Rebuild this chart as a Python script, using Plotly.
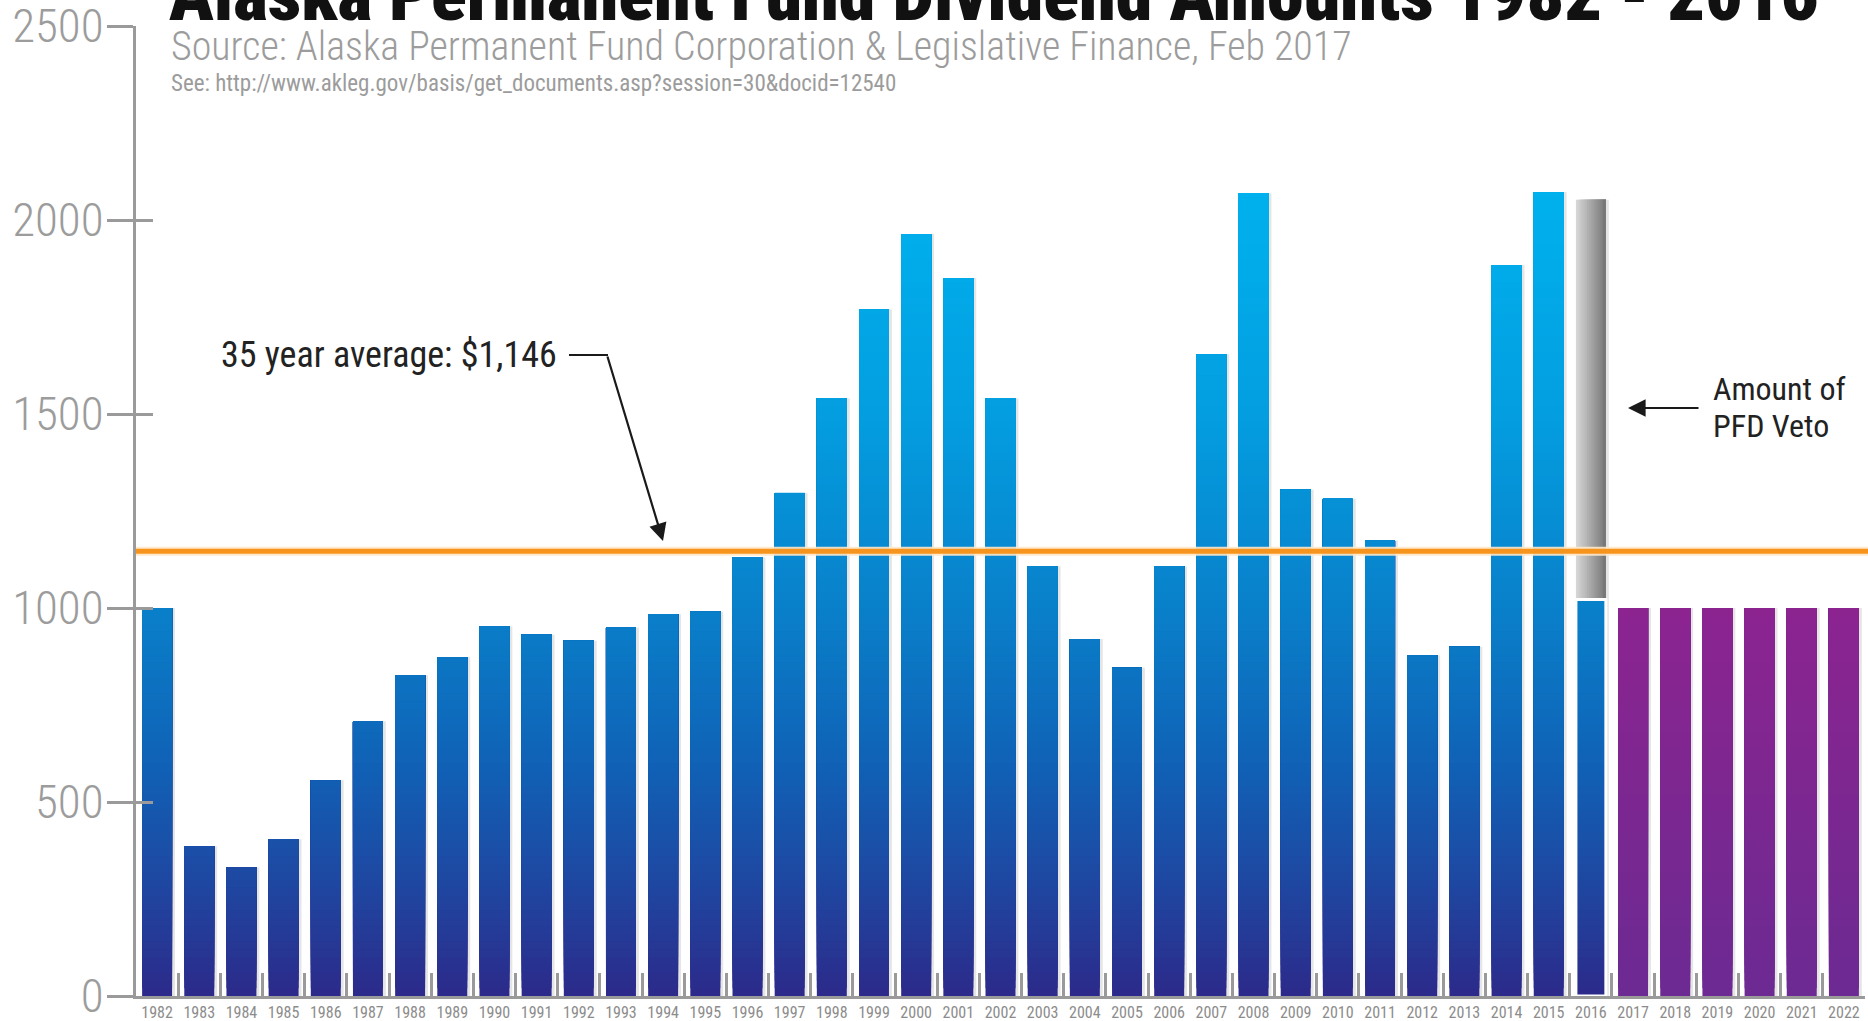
import plotly.graph_objects as go

# ---- data -------------------------------------------------------------
years = [str(y) for y in range(1982, 2023)]
paid_years = years[:35]
dividend = [1000.00, 386.15, 331.29, 404.00, 556.26, 708.19, 826.93, 873.16,
            952.63, 931.34, 915.84, 949.46, 983.90, 990.30, 1130.68, 1296.54,
            1540.88, 1769.84, 1963.86, 1850.28, 1540.76, 1107.56, 919.84,
            845.76, 1106.96, 1654.00, 2069.00, 1305.00, 1281.00, 1174.00,
            878.00, 900.00, 1884.00, 2072.00, 1022.00]
projected_years = years[35:]
projected = [1000, 1000, 1000, 1000, 1000, 1000]
veto_year = "2016"
veto_full_amount = 2052
average_35yr = 1146
y_ticks = [0, 500, 1000, 1500, 2000, 2500]

# ---- style -----------------------------------------------------------------
W, H = 1868, 1021
PLOT_L, PLOT_R, PLOT_T, PLOT_B = 136, 1865, 26, 996
FONT = "Noto Sans ExtraCondensed, Noto Sans Condensed, Roboto Condensed, Roboto, sans-serif"
GREY = "#9a9a9a"
BAR_W = 0.71

blue_stops = [(0, (44, 42, 138)), (300, (30, 72, 162)), (600, (16, 98, 182)),
              (1000, (9, 128, 202)), (1500, (3, 158, 224)), (2100, (0, 178, 238))]
purple_stops = [(0, (108, 42, 146)), (1000, (140, 36, 144))]


def lerp_color(stops, v):
    if v <= stops[0][0]:
        c = stops[0][1]
    elif v >= stops[-1][0]:
        c = stops[-1][1]
    else:
        for (v0, c0), (v1, c1) in zip(stops, stops[1:]):
            if v0 <= v <= v1:
                t = (v - v0) / (v1 - v0)
                c = tuple(round(a + (b - a) * t) for a, b in zip(c0, c1))
                break
    return "rgb(%d,%d,%d)" % c


def px_x(px):
    return (px - PLOT_L) / (PLOT_R - PLOT_L)


def px_y(py):
    return (PLOT_B - py) / (PLOT_B - PLOT_T)


fig = go.Figure()

all_x = paid_years + projected_years
all_v = dividend + projected
kind = ["blue"] * len(dividend) + ["purple"] * len(projected)
veto_paid = dividend[paid_years.index(veto_year)]

# soft drop shadow to the right of every bar
shadow_v = [veto_full_amount if x == veto_year else v for x, v in zip(all_x, all_v)]
fig.add_trace(go.Bar(x=all_x, y=shadow_v, offset=-BAR_W / 2 + 0.07, width=BAR_W,
                     marker=dict(color="rgba(0,0,0,0.10)", line=dict(width=0)),
                     hoverinfo="skip", showlegend=False))

# Vertical gradient: bars stacked as overlaid bands, each band running from its
# base level up to the bar top and coloured for its level.
STEP = 20
top = max(all_v)
k = 0
while k * STEP < top:
    base = k * STEP
    xs, ys, cs = [], [], []
    for x, v, kd in zip(all_x, all_v, kind):
        if v > base:
            xs.append(x)
            ys.append(v - base)
            stops = blue_stops if kd == "blue" else purple_stops
            cs.append(lerp_color(stops, base + STEP / 2))
    fig.add_trace(go.Bar(x=xs, y=ys, base=base, width=BAR_W,
                         marker=dict(color=cs, line=dict(width=0)),
                         hoverinfo="skip", showlegend=False))
    k += 1

# Vetoed share of the 2016 dividend: grey bar with a horizontal sheen
N_SHEEN = 16
for i in range(N_SHEEN):
    t = i / (N_SHEEN - 1)
    g = round(214 - (214 - 120) * t)
    off = -BAR_W / 2 + i * BAR_W / N_SHEEN
    fig.add_trace(go.Bar(x=[veto_year], y=[veto_full_amount - veto_paid],
                         base=veto_paid, offset=off, width=BAR_W / 2 - off,
                         marker=dict(color="rgb(%d,%d,%d)" % (g, g, g), line=dict(width=0)),
                         hoverinfo="skip", showlegend=False))
# thin white seam between paid and vetoed parts
fig.add_trace(go.Bar(x=[veto_year], y=[veto_paid], width=BAR_W,
                     marker=dict(color="rgba(0,0,0,0)", line=dict(color="white", width=3)),
                     hoverinfo="skip", showlegend=False))

# second y axis only for the inner half of the cross-shaped ticks
fig.add_trace(go.Scatter(x=[years[0]], y=[0], yaxis="y2", mode="markers",
                         marker=dict(opacity=0), hoverinfo="skip", showlegend=False))

# 35-year average line
fig.add_shape(type="line", xref="paper", yref="y", x0=0, x1=1.01,
              y0=average_35yr, y1=average_35yr,
              line=dict(color="rgba(255,232,200,0.9)", width=9), layer="above")
fig.add_shape(type="line", xref="paper", yref="y", x0=0, x1=1.01,
              y0=average_35yr, y1=average_35yr,
              line=dict(color="#f7941d", width=5), layer="above")

annotations = [
    dict(text="Alaska Permanent Fund Dividend Amounts 1982 - 2016",
         x=px_x(167), y=px_y(40), xanchor="left", yanchor="bottom",
         font=dict(family=FONT, size=74, color="#111111", weight=900)),
    dict(text="Source: Alaska Permanent Fund Corporation & Legislative Finance, Feb 2017",
         x=px_x(169), y=px_y(72), xanchor="left", yanchor="bottom",
         font=dict(family=FONT, size=40, color="#9c9c9c", weight=300)),
    dict(text="See: http://www.akleg.gov/basis/get_documents.asp?session=30&docid=12540",
         x=px_x(169), y=px_y(99), xanchor="left", yanchor="bottom",
         font=dict(family=FONT, size=23, color="#9c9c9c")),
    dict(text="35 year average: $1,146",
         x=px_x(219), y=px_y(355), xanchor="left", yanchor="middle",
         font=dict(family=FONT, size=36, color="#222222")),
    dict(text="", x=px_x(663), y=px_y(541), ax=607 - 663, ay=355 - 541,
         showarrow=True, arrowhead=2, arrowsize=1.6, arrowwidth=2.2, arrowcolor="#1a1a1a"),
    dict(text="Amount of", x=px_x(1711), y=px_y(410), xanchor="left", yanchor="bottom",
         font=dict(family=FONT, size=32, color="#222222")),
    dict(text="PFD Veto", x=px_x(1711), y=px_y(447), xanchor="left", yanchor="bottom",
         font=dict(family=FONT, size=32, color="#222222")),
    dict(text="", x=px_x(1628), y=px_y(408), ax=1700 - 1628, ay=0,
         showarrow=True, arrowhead=2, arrowsize=1.6, arrowwidth=2.2, arrowcolor="#1a1a1a"),
]
for a in annotations:
    a.setdefault("xref", "paper")
    a.setdefault("yref", "paper")
    a.setdefault("showarrow", False)
    fig.add_annotation(**a)

fig.add_shape(type="line", xref="paper", yref="paper",
              x0=px_x(569), x1=px_x(608), y0=px_y(355), y1=px_y(355),
              line=dict(color="#1a1a1a", width=2.2))

fig.update_layout(
    width=W, height=H,
    margin=dict(l=PLOT_L, r=W - PLOT_R, t=PLOT_T, b=H - PLOT_B),
    paper_bgcolor="white", plot_bgcolor="white",
    barmode="overlay", showlegend=False,
    xaxis=dict(type="category", categoryorder="array", categoryarray=years,
               range=[-0.5, len(years) - 0.5], tickson="boundaries",
               ticks="inside", ticklen=23, tickwidth=3, tickcolor=GREY,
               showline=True, linecolor=GREY, linewidth=3,
               showgrid=False, zeroline=False, tickangle=0, automargin=False,
               ticklabeloverflow="allow",
               tickfont=dict(family=FONT, size=16, color="#8c8c8c")),
    yaxis=dict(range=[0, 2500], tickvals=y_ticks, ticks="outside", ticklen=26,
               tickwidth=3, tickcolor=GREY, showline=True, linecolor=GREY,
               linewidth=3, showgrid=False, zeroline=False, automargin=False,
               ticklabeloverflow="allow", ticklabelstandoff=-6,
               tickfont=dict(family=FONT, size=47, color="#9c9c9c", weight=300)),
    yaxis2=dict(range=[0, 2500], overlaying="y", side="left", tickvals=y_ticks[1:],
                ticks="inside", ticklen=17, tickwidth=3, tickcolor=GREY,
                showticklabels=False, showline=False, showgrid=False, zeroline=False),
)

fig.write_html("out.html")
